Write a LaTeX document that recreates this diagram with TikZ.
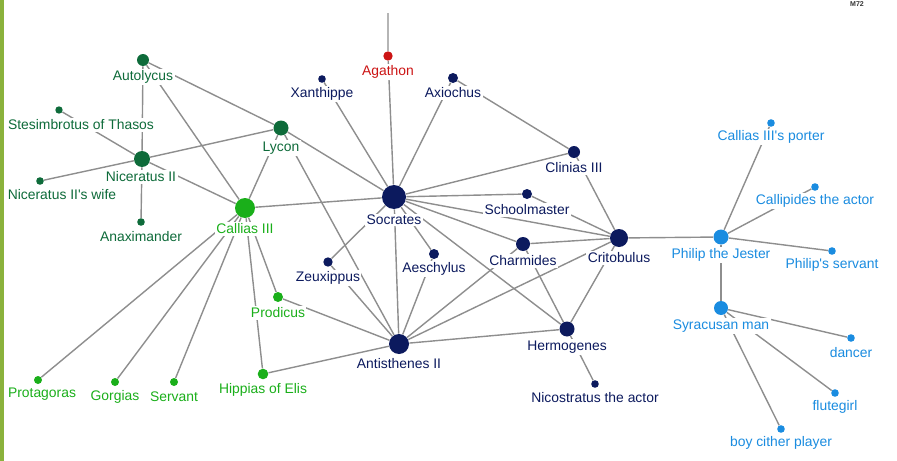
\documentclass[tikz,border=0pt]{standalone}
\usepackage{fontspec}
\setmainfont{Liberation Sans}
\usepackage{xcolor}
\usepackage{tikz}

\definecolor{socblue}{HTML}{0C1A5E}
\definecolor{autgreen}{HTML}{0E6B3A}
\definecolor{calgreen}{HTML}{1AAF1A}
\definecolor{agared}{HTML}{CC1414}
\definecolor{phiblue}{HTML}{1A8CE0}
\definecolor{linkgray}{HTML}{8E8E8E}
\definecolor{barolive}{HTML}{8AB23C}

\begin{document}
\begin{tikzpicture}[x=0.2mm, y=-0.2mm,
    vtx/.style={circle, inner sep=0pt, minimum size=#1*0.4mm},
    lbl/.style={fill=white, inner sep=0.8pt, yshift=-0.2mm, font=\fontsize{7.9}{9}\selectfont},
    link/.style={linkgray, line width=0.8pt}]

        \useasboundingbox (0,0) rectangle (897,461);
        \fill[barolive] (0,0) rectangle (4,461);
        \node[font=\fontsize{4}{5}\selectfont\bfseries, text=black!80] (mark) at (857,4) {M72};

        % Socrates and his circle
        \node[vtx=12, fill=socblue] (soc) at (394,197) {};
        \node[vtx=10, fill=socblue] (ant) at (399,344) {};
        \node[vtx=9, fill=socblue] (crit) at (619,238) {};
        \node[vtx=7.5, fill=socblue] (herm) at (567,329) {};
        \node[vtx=7, fill=socblue] (charm) at (523,244) {};
        \node[vtx=6, fill=socblue] (clin) at (574,152) {};
        \node[vtx=5, fill=socblue] (school) at (527,194) {};
        \node[vtx=4.7, fill=socblue] (zeux) at (328,262) {};
        \node[vtx=5, fill=socblue] (aesch) at (434,254) {};
        \node[vtx=3.8, fill=socblue] (xan) at (322,79) {};
        \node[vtx=5, fill=socblue] (axio) at (453,78) {};
        \node[vtx=3.8, fill=socblue] (nico) at (595,384) {};
        \node[vtx=4.7, fill=agared] (agath) at (388,56) {};
        \coordinate (agtop) at (388,13);

        % Niceratus' household
        \node[vtx=6, fill=autgreen] (aut) at (143,60) {};
        \node[vtx=3.7, fill=autgreen] (stes) at (59,110) {};
        \node[vtx=7.5, fill=autgreen] (lyc) at (281,128) {};
        \node[vtx=8, fill=autgreen] (nic) at (142,159) {};
        \node[vtx=3.8, fill=autgreen] (wife) at (40,181) {};
        \node[vtx=3.8, fill=autgreen] (anax) at (141,222) {};

        % Callias III and the sophists
        \node[vtx=10, fill=calgreen] (cal) at (245,208) {};
        \node[vtx=5, fill=calgreen] (prod) at (278,297) {};
        \node[vtx=5.3, fill=calgreen] (hipp) at (263,374) {};
        \node[vtx=4, fill=calgreen] (prot) at (38,380) {};
        \node[vtx=4, fill=calgreen] (gorg) at (115,382) {};
        \node[vtx=4, fill=calgreen] (serv) at (174,382) {};

        % Philip the Jester and the entertainers
        \node[vtx=7.5, fill=phiblue] (phil) at (721,237) {};
        \node[vtx=3.8, fill=phiblue] (porter) at (771,123) {};
        \node[vtx=3.8, fill=phiblue] (callip) at (815,187) {};
        \node[vtx=3.8, fill=phiblue] (pserv) at (832,251) {};
        \node[vtx=7, fill=phiblue] (syr) at (721,308) {};
        \node[vtx=3.8, fill=phiblue] (dancer) at (851,338) {};
        \node[vtx=3.8, fill=phiblue] (flute) at (835,393) {};
        \node[vtx=3.8, fill=phiblue] (cither) at (781,429) {};

        % links
        \draw[link] (agtop) -- (agath) -- (soc);
        \draw[link] (xan) -- (soc);
        \draw[link] (axio) -- (soc);
        \draw[link] (axio) -- (clin);
        \draw[link] (aut) -- (lyc);
        \draw[link] (aut) -- (nic);
        \draw[link] (aut) -- (cal);
        \draw[link] (stes) -- (nic);
        \draw[link] (wife) -- (nic) -- (lyc);
        \draw[link] (nic) -- (anax);
        \draw[link] (nic) -- (cal);
        \draw[link] (lyc) -- (cal);
        \draw[link] (lyc) -- (soc);
        \draw[link] (lyc) -- (ant);
        \draw[link] (cal) -- (soc);
        \draw[link] (cal) -- (prot);
        \draw[link] (cal) -- (gorg);
        \draw[link] (cal) -- (serv);
        \draw[link] (cal) -- (hipp);
        \draw[link] (cal) -- (prod);
        \draw[link] (prod) -- (ant);
        \draw[link] (hipp) -- (ant);
        \draw[link] (soc) -- (clin);
        \draw[link] (soc) -- (school);
        \draw[link] (soc) -- (crit);
        \draw[link] (soc) -- (charm);
        \draw[link] (soc) -- (herm);
        \draw[link] (soc) -- (zeux);
        \draw[link] (soc) -- (aesch);
        \draw[link] (soc) -- (ant);
        \draw[link] (zeux) -- (ant);
        \draw[link] (aesch) -- (ant);
        \draw[link] (charm) -- (ant);
        \draw[link] (crit) -- (ant);
        \draw[link] (ant) -- (herm);
        \draw[link] (school) -- (crit);
        \draw[link] (clin) -- (crit);
        \draw[link] (charm) -- (crit);
        \draw[link] (charm) -- (herm);
        \draw[link] (crit) -- (herm);
        \draw[link] (herm) -- (nico);
        \draw[link] (crit) -- (phil);
        \draw[link] (phil) -- (porter);
        \draw[link] (phil) -- (callip);
        \draw[link] (phil) -- (pserv);
        \draw[link] (phil) -- (syr);
        \draw[link] (syr) -- (dancer);
        \draw[link] (syr) -- (flute);
        \draw[link] (syr) -- (cither);

        % names
        \node[lbl, text=socblue] (socL) at (394,219) {Socrates};
        \node[lbl, text=socblue] (antL) at (399,363) {Antisthenes II};
        \node[lbl, text=socblue] (critL) at (619,257) {Critobulus};
        \node[lbl, text=socblue] (hermL) at (567,346) {Hermogenes};
        \node[lbl, text=socblue] (charmL) at (523,260) {Charmides};
        \node[lbl, text=socblue] (clinL) at (574,167) {Clinias III};
        \node[lbl, text=socblue] (schoolL) at (527,209) {Schoolmaster};
        \node[lbl, text=socblue] (zeuxL) at (328,277) {Zeuxippus};
        \node[lbl, text=socblue] (aeschL) at (434,268) {Aeschylus};
        \node[lbl, text=socblue] (xanL) at (322,93) {Xanthippe};
        \node[lbl, text=socblue] (axioL) at (453,92) {Axiochus};
        \node[lbl, text=socblue] (nicoL) at (595,397) {Nicostratus the actor};
        \node[lbl, text=agared] (agathL) at (388,71) {Agathon};

        \node[lbl, text=autgreen] (autL) at (143,76) {Autolycus};
        \node[lbl, text=autgreen] (stesL) at (81,124) {Stesimbrotus of Thasos};
        \node[lbl, text=autgreen] (lycL) at (281,147) {Lycon};
        \node[lbl, text=autgreen] (nicL) at (141,176) {Niceratus II};
        \node[lbl, text=autgreen] (wifeL) at (62,194) {Niceratus II\textquotesingle s wife};
        \node[lbl, text=autgreen] (anaxL) at (141,236) {Anaximander};

        \node[lbl, text=calgreen] (calL) at (245,228) {Callias III};
        \node[lbl, text=calgreen] (prodL) at (278,312) {Prodicus};
        \node[lbl, text=calgreen] (hippL) at (263,389) {Hippias of Elis};
        \node[lbl, text=calgreen] (protL) at (42,393) {Protagoras};
        \node[lbl, text=calgreen] (gorgL) at (115,396) {Gorgias};
        \node[lbl, text=calgreen] (servL) at (174,396) {Servant};

        \node[lbl, text=phiblue] (philL) at (721,254) {Philip the Jester};
        \node[lbl, text=phiblue] (porterL) at (771,136) {Callias III\textquotesingle s porter};
        \node[lbl, text=phiblue] (callipL) at (815,200) {Callipides the actor};
        \node[lbl, text=phiblue] (pservL) at (832,264) {Philip\textquotesingle s servant};
        \node[lbl, text=phiblue] (syrL) at (721,325) {Syracusan man};
        \node[lbl, text=phiblue] (dancerL) at (851,352) {dancer};
        \node[lbl, text=phiblue] (fluteL) at (835,406) {flutegirl};
        \node[lbl, text=phiblue] (citherL) at (781,442) {boy cither player};

\end{tikzpicture}
\end{document}
